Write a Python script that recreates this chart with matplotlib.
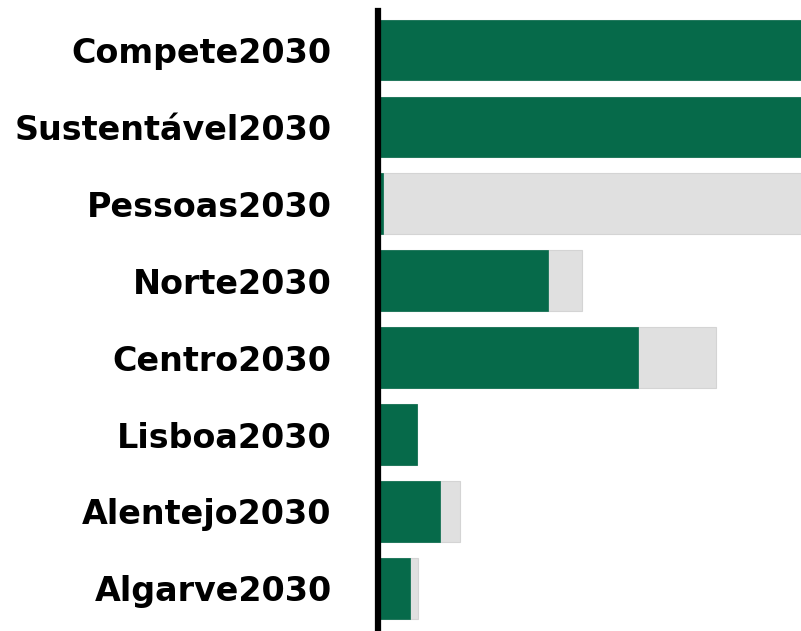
import matplotlib.pyplot as plt
import numpy as np

programas = ["Compete2030", "Sustentável2030", "Pessoas2030", "Norte2030",
             "Centro2030", "Lisboa2030", "Alentejo2030", "Algarve2030"]
dotacao = [560, 540, 620, 204, 338, 39, 82, 40]
executado = [520, 500, 5, 170, 260, 39, 62, 32]

verde = "#066a4a"
cinza = "#e0e0e0"

fig = plt.figure(figsize=(8.01, 6.31), dpi=100)
ax = fig.add_axes([377.5 / 801, 0, 1 - 377.5 / 801, 1 - 11 / 631])

y = np.arange(len(programas))
ax.barh(y, dotacao, height=0.79, color=cinza, edgecolor="#d4d4d4", linewidth=0.8)
ax.barh(y, executado, height=0.79, color=verde, edgecolor=verde, linewidth=0.5)

ax.set_xlim(0, 801 - 377.5)
ax.set_ylim(7.555, -0.507)
ax.set_yticks(y)
ax.set_yticklabels(programas, fontfamily="DejaVu Sans", fontweight="bold", fontsize=24)
ax.tick_params(axis="y", length=0, pad=33)
ax.set_xticks([])
for s in ["top", "right", "bottom"]:
    ax.spines[s].set_visible(False)
ax.spines["left"].set_linewidth(4.5)
ax.spines["left"].set_color("black")

fig.savefig("out.png", dpi=100)
